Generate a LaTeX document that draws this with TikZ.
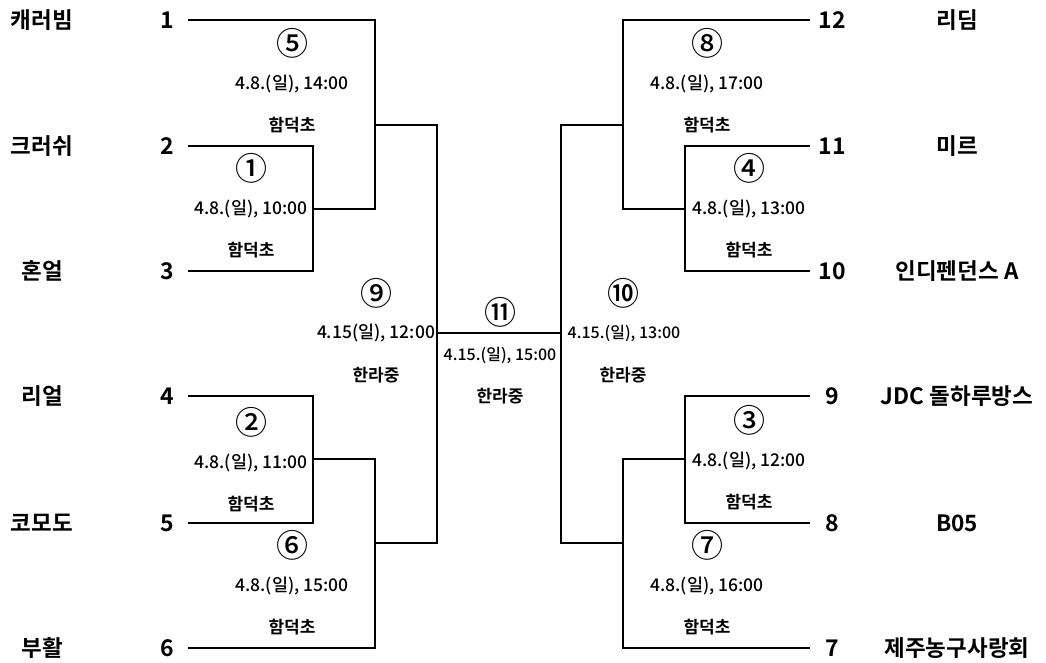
\documentclass[tikz,border=0pt]{standalone}
\usepackage{fontspec}
\setmainfont{Noto Sans CJK KR}[BoldFont={Noto Sans CJK KR Bold}]
\newfontfamily\krmedium{Noto Sans CJK KR Medium}

\tikzset{
    team/.style={font=\bfseries\fontsize{22.5}{22.5}\selectfont, inner sep=0pt},
    seed/.style={font=\bfseries\fontsize{23}{23}\selectfont, inner sep=0pt},
    gameno/.style={font=\krmedium\fontsize{32}{32}\selectfont, inner sep=0pt},
    gametime/.style={font=\krmedium\fontsize{17.5}{17.5}\selectfont, inner sep=0pt},
    narrowtime/.style={gametime, font=\krmedium\fontsize{16}{16}\selectfont},
    venue/.style={font=\bfseries\fontsize{17}{17}\selectfont, inner sep=0pt},
    bracket/.style={line width=1.8pt, line join=miter}
}

\begin{document}
\begin{tikzpicture}[x=1pt, y=-1pt]
    \useasboundingbox (0, 0) rectangle (1046, 663);

    % Left side: team names, seed numbers and line ends
    \foreach \i/\y/\name in {1/20/캐러빔, 2/146/크러쉬, 3/271/혼얼, 4/396/리얼, 5/523/코모도, 6/648/부활} {
        \node[team] (t\i) at (42, \y) {\name};
        \node[seed] (s\i) at (167, \y) {\i};
        \coordinate (l\i) at (188, \y);
    }

    % Right side: team names, seed numbers and line ends
    \foreach \i/\y/\name in {12/20/리딤, 11/146/미르, 10/271/인디펜던스 A, 9/396/JDC 돌하루방스, 8/523/B05, 7/648/제주농구사랑회} {
        \node[team] (t\i) at (957, \y) {\name};
        \node[seed] (s\i) at (832, \y) {\i};
        \coordinate (l\i) at (810, \y);
    }

    % Joints of the bracket
    \coordinate (m1) at (313, 209);
    \coordinate (m2) at (313, 459);
    \coordinate (m5) at (375, 125);
    \coordinate (m6) at (375, 543);
    \coordinate (m9) at (437, 333);
    \coordinate (m10) at (561, 333);
    \coordinate (m8) at (623, 125);
    \coordinate (m7) at (623, 543);
    \coordinate (m4) at (685, 209);
    \coordinate (m3) at (685, 459);

    % Left half of the bracket
    \draw[bracket] (l2) -| (m1) |- (l3);
    \draw[bracket] (l4) -| (m2) |- (l5);
    \draw[bracket] (m1) -| (m5) |- (l1);
    \draw[bracket] (m2) -| (m6) |- (l6);
    \draw[bracket] (m5) -| (m9) |- (m6);

    % Final
    \draw[bracket] (m9) -- (m10);

    % Right half of the bracket
    \draw[bracket] (l11) -| (m4) |- (l10);
    \draw[bracket] (l9) -| (m3) |- (l8);
    \draw[bracket] (m4) -| (m8) |- (l12);
    \draw[bracket] (m3) -| (m7) |- (l7);
    \draw[bracket] (m8) -| (m10) |- (m7);

    % First-round games at 함덕초
    \foreach \n/\x/\y/\no/\hr in {g5/292/43/⑤/14:00, g1/251/168/①/10:00, g2/251/422/②/11:00, g6/292/545/⑥/15:00,
                                 g8/707/43/⑧/17:00, g4/749/168/④/13:00, g3/749/420/③/12:00, g7/707/545/⑦/16:00} {
        \node[gameno] (\n) at (\x, \y) {\no};
        \node[gametime] (\n t) at (\x, \y+41) {4.8.(일), \hr};
        \node[venue] (\n v) at (\x, \y+82) {함덕초};
    }

    % Semi-finals and final at 한라중
    \node[gameno] (g9) at (376, 293) {⑨};
    \node[gametime] (g9t) at (376, 333) {4.15(일), 12:00};
    \node[venue] (g9v) at (376, 375) {한라중};
    \node[gameno] (g10) at (623, 293) {⑩};
    \node[narrowtime] (g10t) at (624, 333) {4.15.(일), 13:00};
    \node[venue] (g10v) at (623, 375) {한라중};
    \node[gameno] (g11) at (500, 312) {⑪};
    \node[narrowtime] (g11t) at (500, 355) {4.15.(일), 15:00};
    \node[venue] (g11v) at (500, 396) {한라중};
\end{tikzpicture}
\end{document}
